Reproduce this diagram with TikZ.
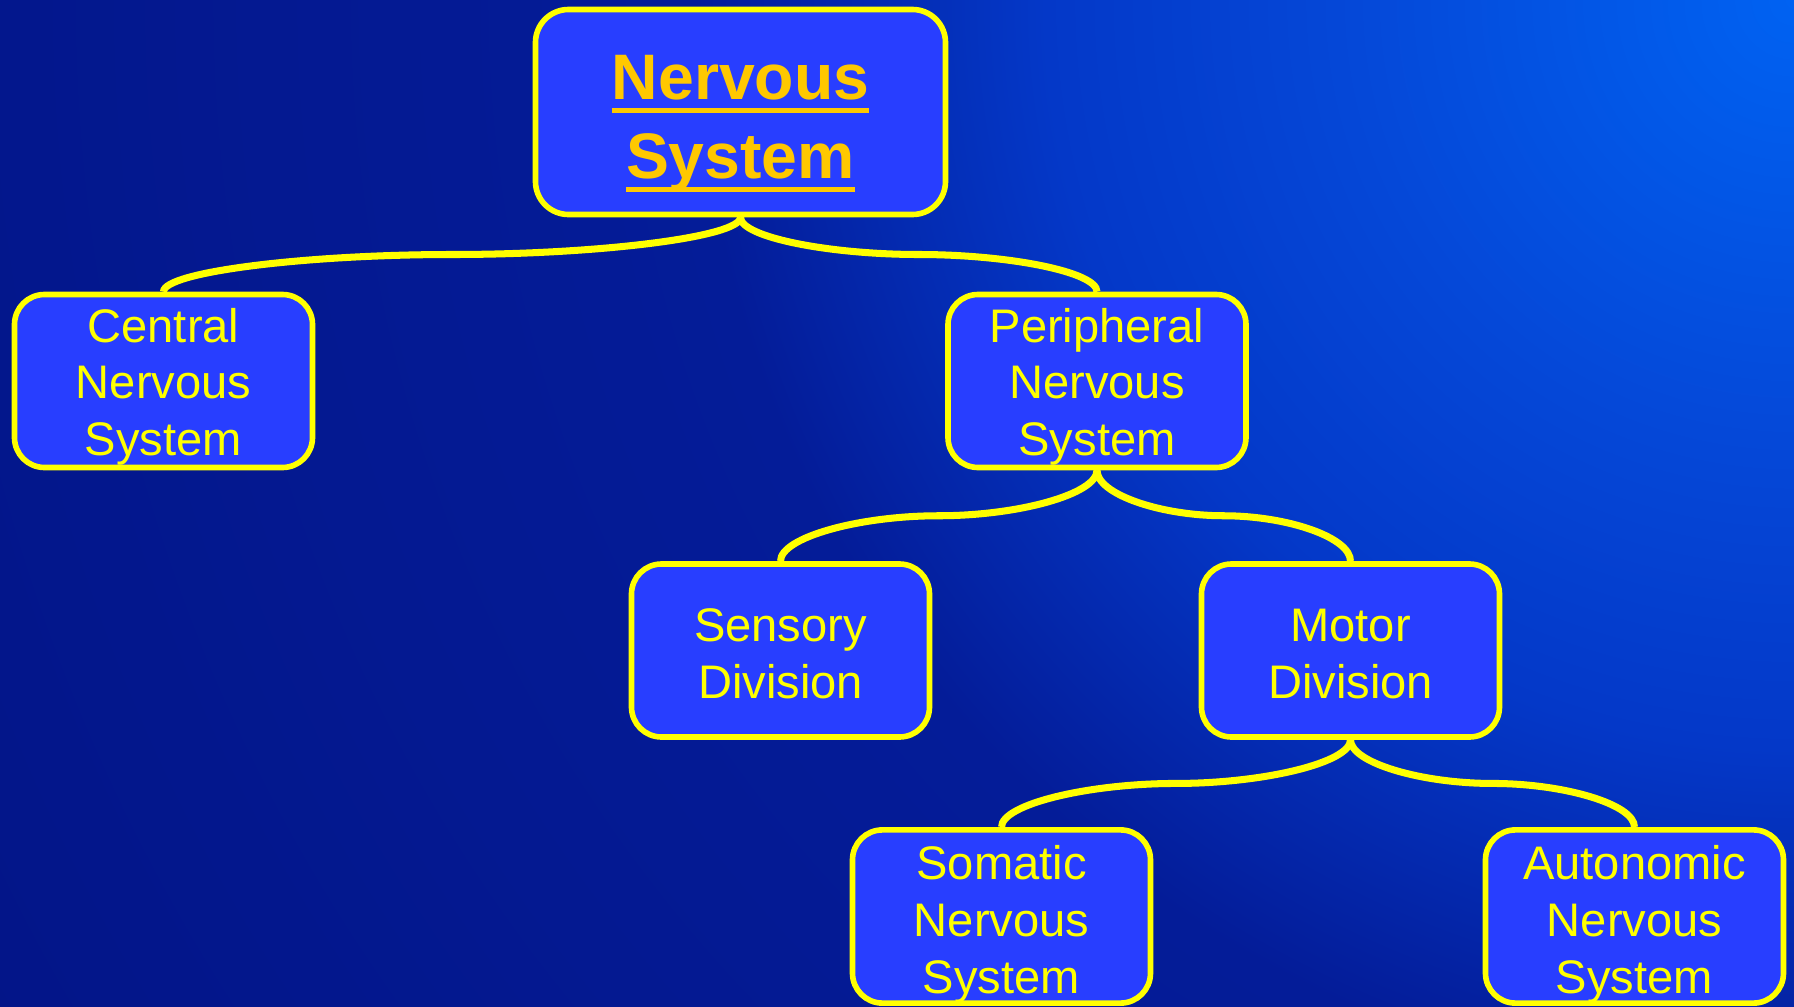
\documentclass[tikz,border=0pt]{standalone}
\usepackage{fontspec}
\setmainfont{Liberation Sans}
\usetikzlibrary{calc}

\definecolor{boxfill}{RGB}{40,62,255}
\definecolor{lineyellow}{RGB}{255,255,0}
\definecolor{titlegold}{RGB}{255,200,0}
\definecolor{bgA}{RGB}{0,98,242}
\definecolor{bgB}{RGB}{5,72,216}
\definecolor{bgC}{RGB}{4,56,200}
\definecolor{bgD}{RGB}{4,28,152}
\definecolor{bgE}{RGB}{3,20,134}
\pgfdeclareradialshading{bgglow}{\pgfpointorigin}{color(0bp)=(bgA); color(5bp)=(bgB); color(8.5bp)=(bgC); color(12.5bp)=(bgD); color(25bp)=(bgE); color(50bp)=(bgE)}

% underlined word
\newcommand{\ulword}[1]{\leavevmode\sbox0{#1}\rlap{\rule[-3.9pt]{\wd0}{1.6pt}}\usebox0}
% strut that pushes the text down a little
\newcommand{\topgap}[1]{\rule{0pt}{#1}}

\tikzset{
  box/.style={draw=lineyellow, line width=1.6pt, fill=boxfill, rounded corners=0.3cm,
    text=lineyellow, align=center, inner sep=0pt,
    font=\fontsize{13.4}{16.2}\selectfont,
    minimum width=2.98cm, minimum height=1.73cm},
  titlebox/.style={box, rounded corners=0.33cm, minimum width=4.10cm, minimum height=2.05cm,
    text=titlegold, font=\bfseries\fontsize{18.3}{22.5}\selectfont},
  link/.style={draw=lineyellow, line width=2pt}
}

\begin{document}
\begin{tikzpicture}
\useasboundingbox (0,0) rectangle (17.94,10.06);
\begin{scope}
\clip (0,0) rectangle (17.94,10.06);
\shade[shading=bgglow] (17.94,10.06) circle (22);
\end{scope}

% boxes
\node[titlebox] (ns) at (7.405,8.94) {\topgap{19.3pt}\ulword{Nervous}\\\ulword{System}};
\node[box] (cns) at (1.635,6.25) {\topgap{13pt}Central\\Nervous\\System};
\node[box] (pns) at (10.97,6.25) {\topgap{13pt}Peripheral\\Nervous\\System};
\node[box] (sd) at (7.805,3.555) {\topgap{11.3pt}Sensory\\Division};
\node[box] (md) at (13.505,3.555) {\topgap{11.3pt}Motor\\Division};
\node[box] (sns) at (10.015,0.895) {\topgap{14.1pt}Somatic\\Nervous\\System};
\node[box] (ans) at (16.345,0.895) {\topgap{14.1pt}Autonomic\\Nervous\\System};

% connectors
\coordinate (m1) at ($(ns.south)!0.5!(cns.north)$);
\coordinate (m2) at ($(ns.south)!0.5!(pns.north)$);
\coordinate (m3) at ($(pns.south)!0.5!(sd.north)$);
\coordinate (m4) at ($(pns.south)!0.5!(md.north)$);
\coordinate (m5) at ($(md.south)!0.5!(sns.north)$);
\coordinate (m6) at ($(md.south)!0.5!(ans.north)$);

\draw[link] (ns.south) .. controls +(0,-0.2) and +(1.44,0) .. (m1) .. controls +(-1.44,0) and +(0,0.2) .. (cns.north);
\draw[link] (ns.south) .. controls +(0,-0.2) and +(-0.89,0) .. (m2) .. controls +(0.89,0) and +(0,0.2) .. (pns.north);
\draw[link] (pns.south) .. controls +(0,-0.24) and +(0.79,0) .. (m3) .. controls +(-0.79,0) and +(0,0.24) .. (sd.north);
\draw[link] (pns.south) .. controls +(0,-0.24) and +(-0.63,0) .. (m4) .. controls +(0.63,0) and +(0,0.24) .. (md.north);
\draw[link] (md.south) .. controls +(0,-0.23) and +(0.87,0) .. (m5) .. controls +(-0.87,0) and +(0,0.23) .. (sns.north);
\draw[link] (md.south) .. controls +(0,-0.23) and +(-0.71,0) .. (m6) .. controls +(0.71,0) and +(0,0.23) .. (ans.north);

\end{tikzpicture}
\end{document}
